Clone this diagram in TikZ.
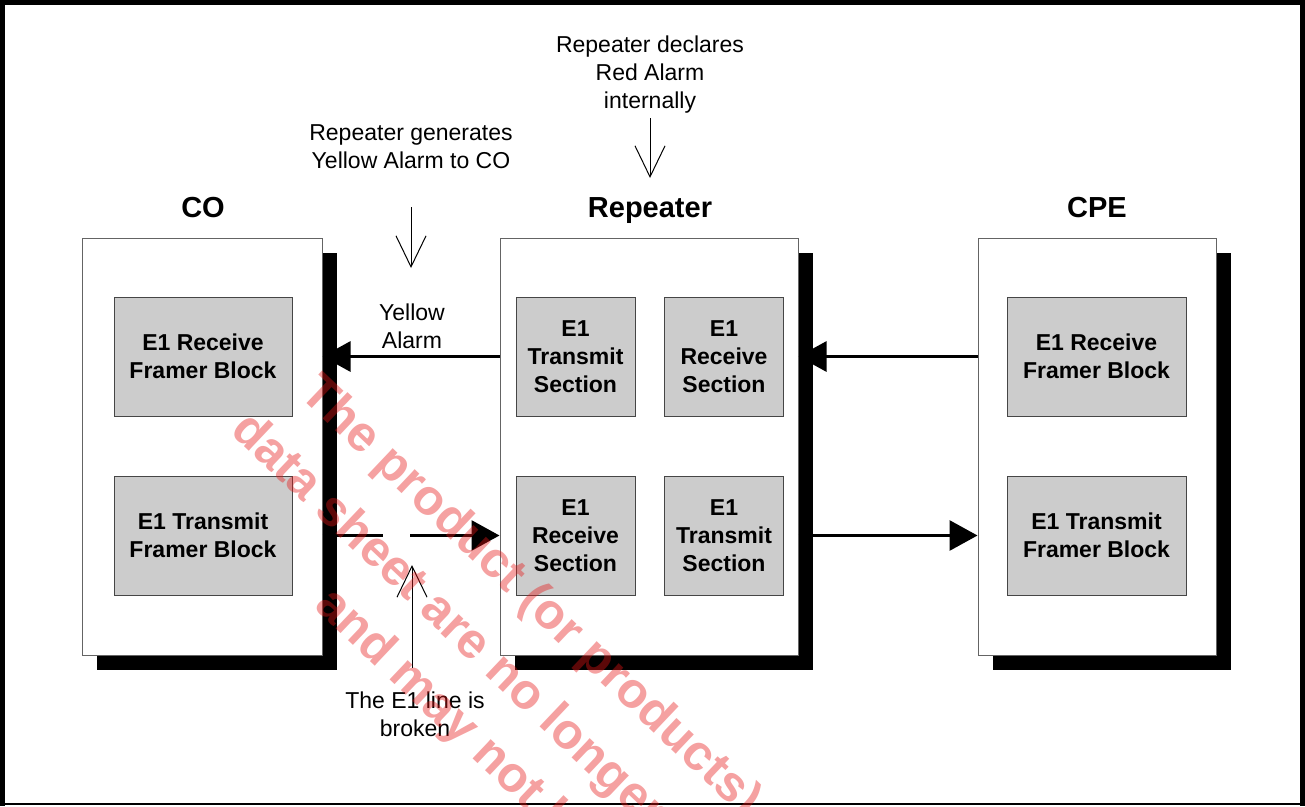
\documentclass[tikz,border=0pt]{standalone}
\usepackage{fontspec}
\setmainfont{Liberation Sans}
\usetikzlibrary{arrows.meta,shadows}
\definecolor{boxgray}{RGB}{204,204,204}
\definecolor{edgegray}{RGB}{100,100,100}
\definecolor{inneredge}{RGB}{70,70,70}
\definecolor{wmred}{RGB}{230,20,20}
\begin{document}
\begin{tikzpicture}[x=1pt,y=-1pt,
  bigbox/.style={draw=edgegray, line width=1pt, fill=white, minimum height=417pt, inner sep=0pt,
    drop shadow={shadow xshift=15pt, shadow yshift=-15pt, fill=black, opacity=1}},
  graybox/.style={draw=inneredge, line width=1pt, fill=boxgray, minimum height=119pt, inner sep=0pt,
    align=center, font=\fontsize{23}{28}\selectfont\bfseries},
  titletext/.style={font=\fontsize{29}{34}\selectfont\bfseries, inner sep=0pt, anchor=base},
  note/.style={align=center, font=\fontsize{23}{28}\selectfont, inner sep=0pt},
  bigarrow/.style={line width=3pt, -{Triangle[length=28pt,width=30pt]}},
  plainline/.style={line width=3pt},
  thinarrow/.style={line width=1pt, -{Straight Barb[length=31pt,width=30pt,line width=1pt]}},
  watermark/.style={font=\fontsize{50}{60}\selectfont\bfseries, text=wmred, text opacity=0.4,
    rotate=-43.5, anchor=base west, inner sep=0pt}
]
\useasboundingbox (0,0) rectangle (1305,806);
% outer frame
\fill[black] (0,0) rectangle (1305,5);
\fill[black] (0,0) rectangle (5,806);
\fill[black] (1300,0) rectangle (1305,806);
\fill[black] (0,803) rectangle (1305,805);

% titles
\node[titletext] (cot) at (203,217.5) {CO};
\node[titletext] (rept) at (650,217.5) {Repeater};
\node[titletext] (cpet) at (1097,217.5) {CPE};

% big boxes
\node[bigbox, minimum width=240pt] (co) at (202,446.5) {};
\node[bigbox, minimum width=298pt] (rep) at (649,446.5) {};
\node[bigbox, minimum width=238pt] (cpe) at (1097,446.5) {};

% inner blocks
\node[graybox, minimum width=178pt] (corx) at (203,356.5) {E1 Receive\\Framer Block};
\node[graybox, minimum width=178pt] (cotx) at (203,535.5) {E1 Transmit\\Framer Block};
\node[graybox, minimum width=119pt] (reptx1) at (575.5,356.5) {E1\\Transmit\\Section};
\node[graybox, minimum width=119pt] (reprx1) at (724,356.5) {E1\\Receive\\Section};
\node[graybox, minimum width=119pt] (reprx2) at (575.5,535.5) {E1\\Receive\\Section};
\node[graybox, minimum width=119pt] (reptx2) at (724,535.5) {E1\\Transmit\\Section};
\node[graybox, minimum width=179pt] (cperx) at (1096.5,356.5) {E1 Receive\\Framer Block};
\node[graybox, minimum width=179pt] (cpetx) at (1096.5,535.5) {E1 Transmit\\Framer Block};

% main connectors
\draw[bigarrow] (rep.west |- corx) -- (co.east |- corx);
\draw[bigarrow] (cpe.west |- cperx) -- (rep.east |- cperx);
\coordinate (brk1) at (383,535.5);
\coordinate (brk2) at (410,535.5);
\draw[plainline] (co.east |- cotx) -- (brk1);
\draw[bigarrow] (brk2) -- (rep.west |- cotx);
\draw[bigarrow] (rep.east |- reptx2) -- (cpe.west |- reptx2);

% annotations
\node[note] (ylab) at (412,326.5) {Yellow\\Alarm};
\node[note] (ygen) at (411,147) {Repeater generates\\Yellow Alarm to CO};
\coordinate (ygens) at (411,207);
\coordinate (ygent) at (411,268);
\draw[thinarrow] (ygens) -- (ygent);
\node[note] (red) at (650,75) {Repeater declares\\Red Alarm\\internally};
\coordinate (reds) at (650,118);
\coordinate (redt) at (650,178);
\draw[thinarrow] (reds) -- (redt);
\node[note] (brk) at (415,714) {The E1 line is\\broken};
\coordinate (brks) at (412,668);
\coordinate (brkt) at (412,565);
\draw[thinarrow] (brks) -- (brkt);

% watermark
\begin{scope}
\clip (0,0) rectangle (1305,806);
\node[watermark] (wm1) at (298,395) {The product (or products)};
\node[watermark] (wm2) at (229,432) {data sheet are no longer};
\node[watermark] (wm3) at (313,607) {and may not be};
\end{scope}
\end{tikzpicture}
\end{document}
